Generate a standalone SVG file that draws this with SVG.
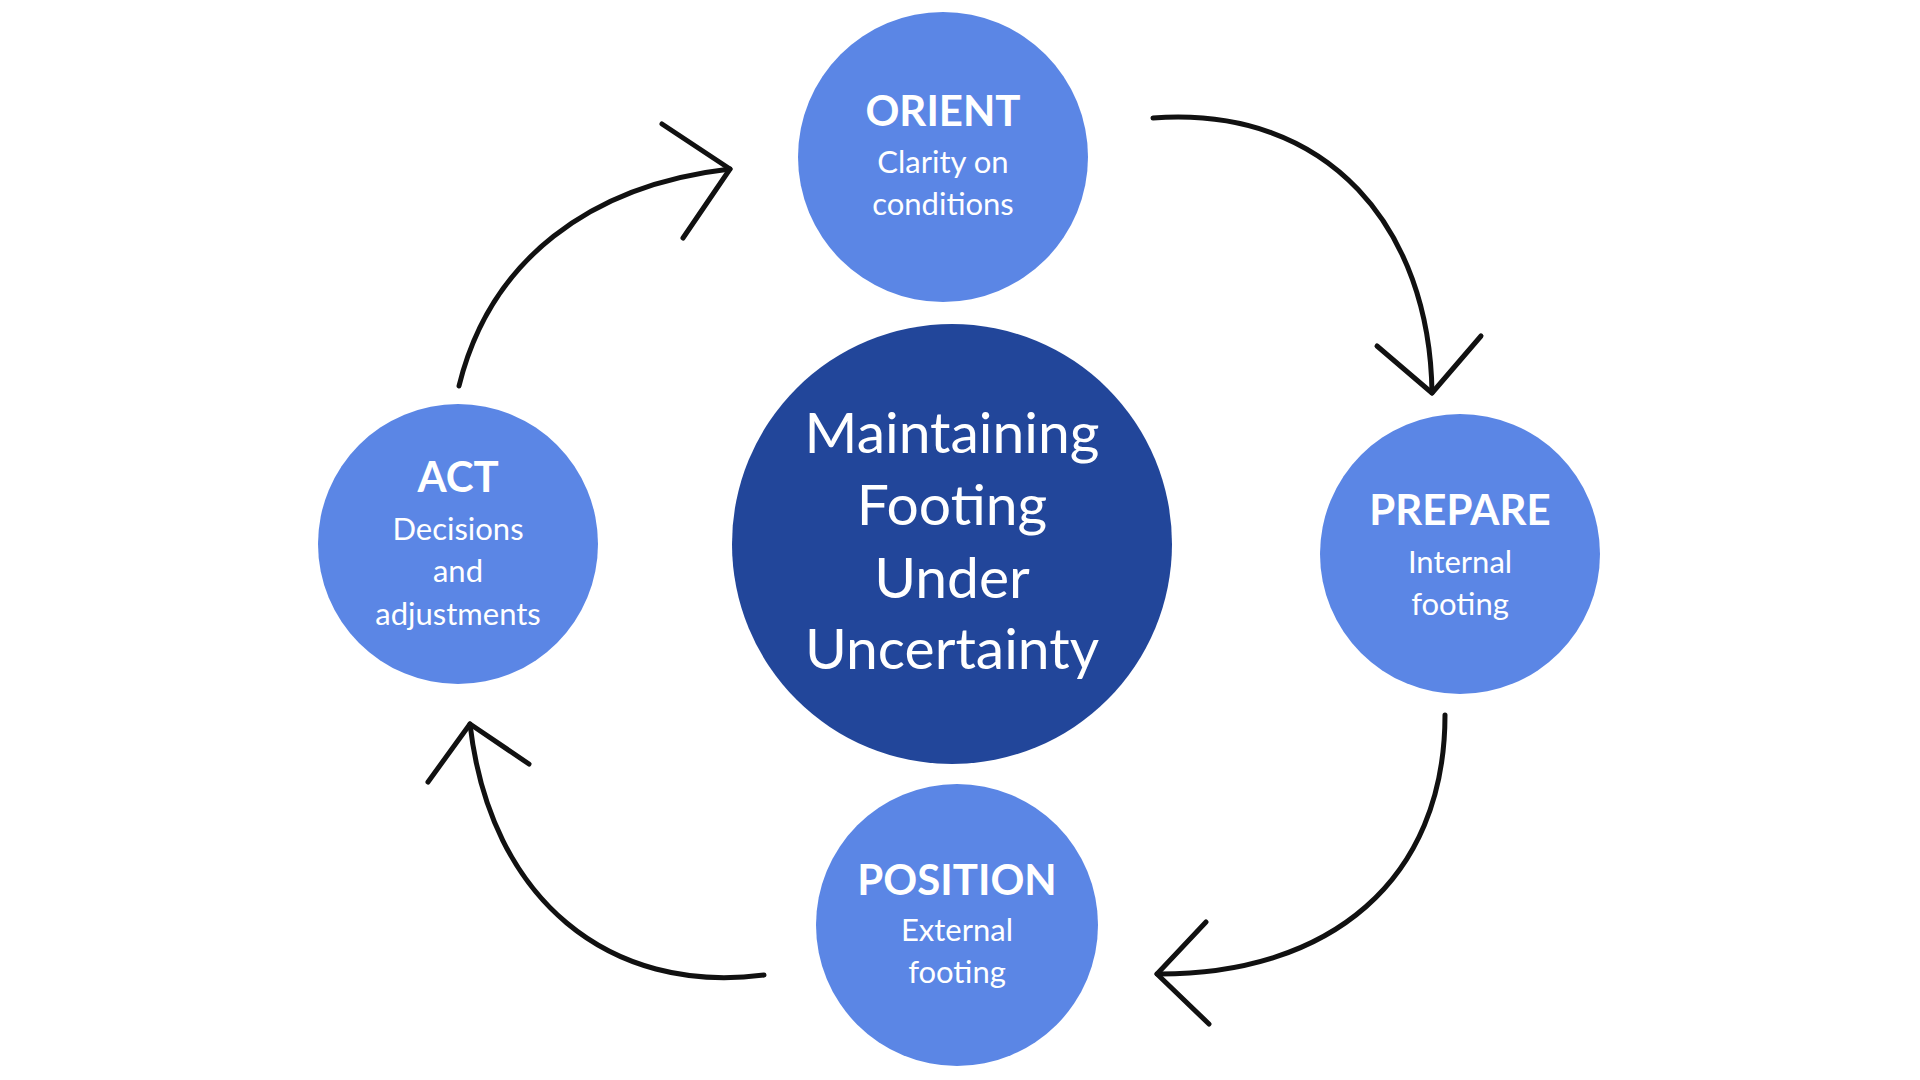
<svg xmlns="http://www.w3.org/2000/svg" width="1920" height="1080" viewBox="0 0 1920 1080">
<style>
.n{fill:#5B86E5}.c{fill:#22469A}
text{font-family:Lato,"Open Sans",sans-serif;fill:#fff;text-anchor:middle}
.t{font-size:42px;font-weight:bold}.s{font-size:31px}.m{font-size:57px}
.a{fill:none;stroke:#111;stroke-width:5;stroke-linecap:round;stroke-linejoin:round}
</style>
<rect width="1920" height="1080" fill="#fff"/>
<g id="center"><circle class="c" cx="952" cy="544" r="220"/>
<text class="m" x="952" y="453">Maintaining</text><text class="m" x="952" y="525">Footing</text><text class="m" x="952" y="598">Under</text><text class="m" x="952" y="669">Uncertainty</text></g>
<g id="orient"><circle class="n" cx="943" cy="157" r="145"/>
<text class="t" x="943" y="126">ORIENT</text><text class="s" x="943" y="173">Clarity on</text><text class="s" x="943" y="215">conditions</text></g>
<g id="prepare"><circle class="n" cx="1460" cy="554" r="140"/>
<text class="t" x="1460" y="525">PREPARE</text><text class="s" x="1460" y="573">Internal</text><text class="s" x="1460" y="615">footing</text></g>
<g id="position"><circle class="n" cx="957" cy="925" r="141"/>
<text class="t" x="957" y="895">POSITION</text><text class="s" x="957" y="941">External</text><text class="s" x="957" y="983">footing</text></g>
<g id="act"><circle class="n" cx="458" cy="544" r="140"/>
<text class="t" x="458" y="492">ACT</text><text class="s" x="458" y="540">Decisions</text><text class="s" x="458" y="582">and</text><text class="s" x="458" y="625">adjustments</text></g>
<g id="connectors">
<path class="a" d="M1153,118 C1330,105 1430,230 1432,393"/><path class="a" d="M1377,346 L1432,393 L1481,336"/>
<path class="a" d="M1445,715 C1445,880 1330,975 1157,974"/><path class="a" d="M1206,922 L1157,974 L1209,1024"/>
<path class="a" d="M764,975 C610,995 490,900 470,724"/><path class="a" d="M428,782 L470,724 L529,764"/>
<path class="a" d="M459,386 C490,260 590,185 730,169"/><path class="a" d="M662,124 L730,169 L683,238"/>
</g>
</svg>
